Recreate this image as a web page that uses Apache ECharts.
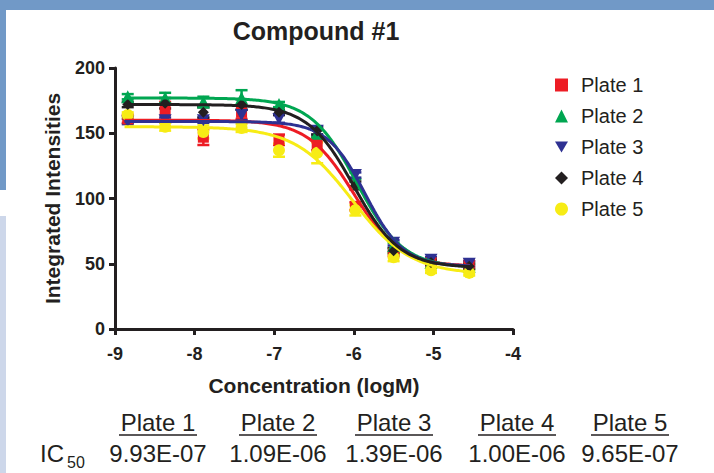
<!DOCTYPE html>
<html>
<head>
<meta charset="utf-8">
<script src="https://cdn.jsdelivr.net/npm/echarts@6/dist/echarts.min.js"></script>
<style>
html,body{margin:0;padding:0;background:#fff;}
#chart{width:714px;height:473px;}
</style>
</head>
<body>
<div id="chart"></div>
<script>
// ---- data ----
const plateNames = ['Plate 1', 'Plate 2', 'Plate 3', 'Plate 4', 'Plate 5'];
const concLog = [-8.84, -8.37, -7.89, -7.41, -6.94, -6.46, -5.98, -5.50, -5.03, -4.55];
const plate1 = [161, 167, 147, 166, 145, 142, 94, 58, 51, 50];
const plate2 = [178, 177, 174, 177, 172, 150, 112, 64, 51, 48];
const plate3 = [159, 160, 160, 164, 161, 152, 118, 66, 53, 50];
const plate4 = [172, 173, 166, 172, 166, 152, 110, 60, 51, 48];
const plate5 = [164, 155, 151, 154, 137, 135, 91, 55, 45, 43];
const err1 = [3, 7, 6, 5, 4, 5, 3, 2, 2, 2];
const err2 = [2, 4, 4, 6, 2, 3, 3, 2, 2, 2];
const err3 = [2, 2, 2, 4, 3, 3, 2, 2, 2, 2];
const err4 = [2, 4, 4, 4, 2, 3, 3, 2, 2, 2];
const err5 = [2, 3, 5, 3, 5, 8, 4, 3, 2, 2];
// fitted dose-response parameters (IC50 from the table)
const ic50Text = ['9.93E-07', '1.09E-06', '1.39E-06', '1.00E-06', '9.65E-07'];
const fitTop = [160, 177, 159, 172, 155];
const fitBottom = [48, 47, 48, 47, 42];
const fitHill = [1.5, 1.5, 1.8, 1.5, 1.2];
const fitRange = [-8.88, -4.54];
const xTicks = [-9, -4, 1];
const yTicks = [0, 200, 50];

const colors = ['#ed1c24', '#00a651', '#2e3192', '#231f20', '#f7ec15'];
const symbols = ['rect', 'triangle', 'path://M0,0 L20,0 L10,17.3 Z', 'diamond', 'circle'];
const symSizes = [11, 13, [13, 12], 11, 12];

const values = [plate1, plate2, plate3, plate4, plate5];
const errs = [err1, err2, err3, err4, err5];

function fitCurve(i) {
  const logIC = Math.log10(parseFloat(ic50Text[i]));
  const pts = [];
  for (let x = fitRange[0]; x <= fitRange[1] + 1e-9; x += 0.02) {
    const y = fitBottom[i] + (fitTop[i] - fitBottom[i]) / (1 + Math.pow(10, (x - logIC) * fitHill[i]));
    pts.push([x, y]);
  }
  return pts;
}

const series = [];
const order = [0, 1, 2, 4, 3];
order.forEach(function (i) {
  series.push({
    type: 'custom',
    name: plateNames[i] + ' err',
    z: 2,
    data: concLog.map((x, k) => [x, values[i][k] - errs[i][k], values[i][k] + errs[i][k]]),
    renderItem: function (params, api) {
      const lo = api.coord([api.value(0), api.value(1)]);
      const hi = api.coord([api.value(0), api.value(2)]);
      const w = 6;
      const st = { stroke: colors[i], lineWidth: 2.5 };
      return {
        type: 'group',
        children: [
          { type: 'line', shape: { x1: lo[0], y1: lo[1], x2: hi[0], y2: hi[1] }, style: st },
          { type: 'line', shape: { x1: lo[0] - w, y1: lo[1], x2: lo[0] + w, y2: lo[1] }, style: st },
          { type: 'line', shape: { x1: hi[0] - w, y1: hi[1], x2: hi[0] + w, y2: hi[1] }, style: st }
        ]
      };
    },
    silent: true
  });
  series.push({
    type: 'scatter',
    name: plateNames[i],
    z: 3,
    symbol: symbols[i],
    symbolSize: symSizes[i],
    itemStyle: { color: colors[i], opacity: 1 },
    data: concLog.map((x, k) => [x, values[i][k]]),
    silent: true
  });
  series.push({
    type: 'line',
    name: plateNames[i] + ' fit',
    z: 4,
    showSymbol: false,
    symbol: 'none',
    smooth: false,
    lineStyle: { color: colors[i], width: 3 },
    data: fitCurve(i),
    silent: true
  });
});

// bottom table
const tableX = [158, 278, 394, 517, 630];
const FONT = 'Liberation Sans';
const graphics = [
  { type: 'rect', shape: { x: 0, y: 0, width: 714, height: 10 }, style: { fill: '#7199c7' } },
  { type: 'rect', shape: { x: 0, y: 0, width: 6, height: 190 }, style: { fill: '#7199c7' } },
  { type: 'rect', shape: { x: 0, y: 216, width: 6, height: 257 }, style: { fill: '#cdd7ea' } },
  { type: 'text', x: 40, y: 453, style: { text: 'IC', fontFamily: FONT, fontSize: 24, fill: '#231f20', align: 'left', verticalAlign: 'middle' } },
  { type: 'text', x: 67, y: 462, style: { text: '50', fontFamily: FONT, fontSize: 16, fill: '#231f20', align: 'left', verticalAlign: 'middle' } }
];
plateNames.forEach(function (n, i) {
  graphics.push({
    type: 'text', x: tableX[i], y: 422,
    style: { text: n, fontFamily: FONT, fontSize: 24, fill: '#231f20', align: 'center', verticalAlign: 'middle' }
  });
  graphics.push({
    type: 'line', shape: { x1: tableX[i] - 39, y1: 435, x2: tableX[i] + 39, y2: 435 },
    style: { stroke: '#231f20', lineWidth: 1.5 }
  });
  graphics.push({
    type: 'text', x: tableX[i], y: 453,
    style: { text: ic50Text[i], fontFamily: FONT, fontSize: 24, fill: '#231f20', align: 'center', verticalAlign: 'middle' }
  });
});

const chart = echarts.init(document.getElementById('chart'), null, { renderer: 'svg' });
chart.setOption({
  animation: false,
  backgroundColor: '#ffffff',
  title: {
    text: 'Compound #1',
    left: 311, top: 13, textAlign: 'center',
    textStyle: { fontFamily: FONT, fontSize: 25, fontWeight: 'bold', color: '#231f20' }
  },
  legend: {
    orient: 'vertical',
    left: 550, top: 69,
    itemWidth: 13, itemHeight: 13,
    itemGap: 9,
    data: plateNames,
    textStyle: { fontFamily: FONT, fontSize: 20, color: '#231f20', lineHeight: 22, padding: [0, 0, 0, 8] },
    selectedMode: false
  },
  grid: { left: 115, right: 201, top: 68, bottom: 144, containLabel: false },
  xAxis: {
    type: 'value',
    min: xTicks[0], max: xTicks[1], interval: xTicks[2],
    name: 'Concentration (logM)', nameLocation: 'middle', nameGap: 46,
    nameTextStyle: { fontFamily: FONT, fontSize: 21, fontWeight: 'bold', color: '#231f20' },
    axisLine: { show: true, onZero: false, lineStyle: { color: '#231f20', width: 3 } },
    axisTick: { show: true, inside: false, length: 6, lineStyle: { color: '#231f20', width: 3 } },
    axisLabel: { fontFamily: FONT, fontSize: 18, fontWeight: 'bold', color: '#231f20', margin: 16 },
    splitLine: { show: false }
  },
  yAxis: {
    type: 'value',
    min: yTicks[0], max: yTicks[1], interval: yTicks[2],
    name: 'Integrated Intensities', nameLocation: 'middle', nameGap: 52, nameRotate: 90,
    nameTextStyle: { fontFamily: FONT, fontSize: 21, fontWeight: 'bold', color: '#231f20' },
    axisLine: { show: true, onZero: false, lineStyle: { color: '#231f20', width: 3 } },
    axisTick: { show: true, inside: false, length: 6, lineStyle: { color: '#231f20', width: 3 } },
    axisLabel: { fontFamily: FONT, fontSize: 18, fontWeight: 'bold', color: '#231f20', margin: 10 },
    splitLine: { show: false }
  },
  graphic: graphics,
  series: series
});
</script>
</body>
</html>
